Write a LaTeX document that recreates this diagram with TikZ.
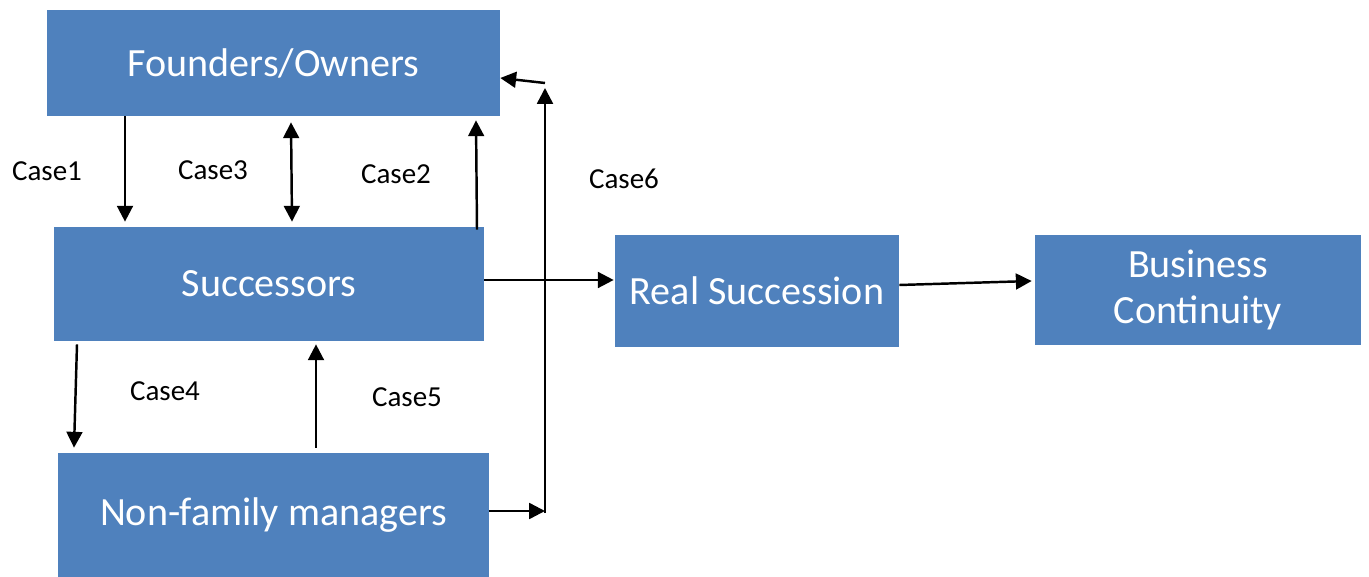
\documentclass[tikz,border=0pt]{standalone}
\usepackage{fontspec}
\setmainfont{Carlito}
\usetikzlibrary{arrows.meta}
\definecolor{boxblue}{HTML}{4F81BD}
\begin{document}
\begin{tikzpicture}[x=0.02cm,y=-0.02cm,
  box/.style={draw=none,fill=boxblue,text=white,font=\fontsize{22.8}{27}\selectfont,align=center,inner sep=0pt},
  lbl/.style={font=\fontsize{16.5}{20}\selectfont,inner sep=0pt},
  arr/.style={line width=1.4pt,-{Triangle[length=9pt,width=9pt]}},
  darr/.style={line width=1.4pt,{Triangle[length=9pt,width=9pt]}-{Triangle[length=9pt,width=9pt]}}]
\useasboundingbox (0,0) rectangle (1369,577);
\node[box,minimum width=9.06cm,minimum height=2.12cm] (F) at (273.5,63) {Founders/Owners};
\node[box,minimum width=8.6cm,minimum height=2.28cm] (S) at (269,284) {Successors};
\node[box,minimum width=8.62cm,minimum height=2.48cm] (N) at (273.5,515) {Non-family managers};
\node[box,minimum width=5.68cm,minimum height=2.24cm] (R) at (757,291) {Real Succession};
\node[box,minimum width=6.52cm,minimum height=2.2cm,font=\fontsize{22.8}{26.5}\selectfont] (B) at (1198,290) {Business\\Continuity};
\node[lbl] (l1) at (47,171) {Case1};
\node[lbl] (l3) at (213,170) {Case3};
\node[lbl] (l2) at (396,174) {Case2};
\node[lbl] (l6) at (624,179) {Case6};
\node[lbl] (l4) at (165,391) {Case4};
\node[lbl] (l5) at (407,397) {Case5};
\coordinate (c6top) at (545,83);
\coordinate (c6bot) at (545,513);
% Case1
\draw[arr] (F.south -| 125,0) -- ([yshift=0.1cm]S.north -| 125,0);
% Case3
\draw[darr] ([yshift=-0.12cm]F.south -| 291,0) -- ([yshift=0.1cm]S.north -| 292,0);
% Case2
\draw[arr] ([yshift=-0.06cm]S.north -| 477,0) -- ([yshift=-0.08cm]F.south -| 476,0);
% Case4
\draw[arr] ([yshift=-0.06cm]S.south -| 77,0) -- ([yshift=0.1cm]N.north -| 74,0);
% Case5
\draw[arr] ([yshift=0.1cm]N.north -| 316,0) -- ([yshift=-0.06cm]S.south -| 316,0);
% Case6
\draw[arr] (N.east |- 0,511) -- (c6bot |- 0,511);
\draw[arr] (c6bot) -- ([yshift=-0.1cm]c6top);
\draw[arr] (c6top) -- (F.east |- 0,78);
% Successors -> Real Succession
\draw[arr] (S.east |- 0,280) -- ([xshift=-0.02cm]R.west |- 0,280);
% Real Succession -> Business Continuity
\draw[arr] ([yshift=0.12cm]R.east) -- ([xshift=-0.06cm,yshift=0.18cm]B.west);
\end{tikzpicture}
\end{document}
